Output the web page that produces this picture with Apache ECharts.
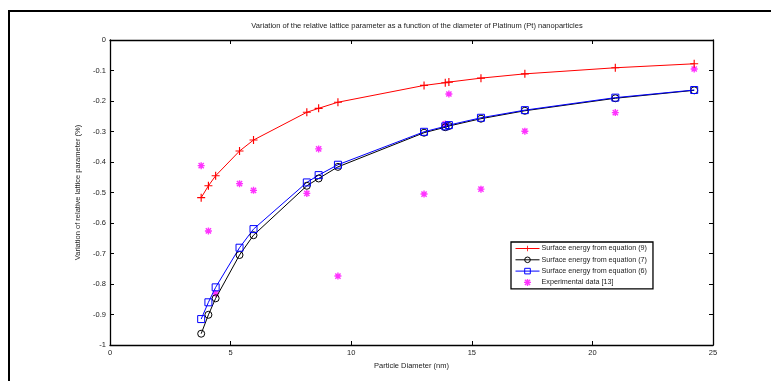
<!DOCTYPE html>
<html><head><meta charset="utf-8">
<script src="https://cdn.jsdelivr.net/npm/echarts@6/dist/echarts.min.js"></script>
<style>html,body{margin:0;padding:0;background:#fff}#c{width:771px;height:381px}</style>
</head><body><div id="c"></div>
<script>
const diameters = [3.78, 4.08, 4.38, 5.37, 5.95, 8.16, 8.65, 9.45, 13.02, 13.9, 14.05, 15.38, 17.2, 20.95, 24.22];
const eq9 = [-0.517, -0.478, -0.445, -0.364, -0.328, -0.237, -0.224, -0.204, -0.149, -0.140, -0.138, -0.125, -0.111, -0.091, -0.078];
const eq7 = [-0.963, -0.901, -0.847, -0.705, -0.640, -0.478, -0.454, -0.416, -0.304, -0.286, -0.282, -0.258, -0.232, -0.191, -0.165];
const eq6 = [-0.915, -0.860, -0.811, -0.681, -0.620, -0.467, -0.443, -0.409, -0.301, -0.283, -0.279, -0.255, -0.230, -0.189, -0.164];
const experimental = [-0.412, -0.626, -0.831, -0.471, -0.493, -0.503, -0.357, -0.774, -0.505, -0.275, -0.177, -0.489, -0.299, -0.238, -0.095];
const seriesNames = ['Surface energy from equation (9)', 'Surface energy from equation (7)', 'Surface energy from equation (6)', 'Experimental data [13]'];
const titleText = 'Variation of the relative lattice parameter as a function of the diameter of Platinum (Pt) nanoparticles';
const xName = 'Particle Diameter (nm)';
const yName = 'Variation of relative lattice parameter (%)';

const pair = (ys) => diameters.map((x, i) => [x, ys[i]]);
const font = 'Liberation Sans, Arial, sans-serif';
const plusPath = 'path://M3,0H4V3H7V4H4V7H3V4H0V3H3Z';
const starPath = 'path://M2.8,0H4.2V2.8H7V4.2H4.2V7H2.8V4.2H0V2.8H2.8Z M0.4,1.4L1.4,0.4L6.6,5.6L5.6,6.6Z M5.6,0.4L6.6,1.4L1.4,6.6L0.4,5.6Z M2,2H5V5H2Z';

const chart = echarts.init(document.getElementById('c'), null, {renderer: 'canvas'});
const axisCommon = {
  axisLine: {show: true, onZero: false, lineStyle: {color: '#000', width: 1.3}},
  axisTick: {show: true, inside: true, length: 4, lineStyle: {color: '#000', width: 1}},
  splitLine: {show: false}
};
chart.setOption({
  animation: false,
  backgroundColor: '#fff',
  title: {text: titleText, left: 412, top: 17, textAlign: 'center',
    textStyle: {fontFamily: font, fontSize: 7.5, fontWeight: 'normal', color: '#222'}},
  grid: {left: 110, top: 40, right: 58, bottom: 36},
  legend: {
    orient: 'vertical', left: 511, top: 242, width: 140,
    backgroundColor: '#fff', borderColor: '#000', borderWidth: 1.3,
    padding: [3, 6, 3, 4], itemWidth: 24, itemHeight: 7, itemGap: 4.3,
    lineStyle: {width: 1}, itemStyle: {borderWidth: 1},
    textStyle: {fontFamily: font, fontSize: 7.2, color: '#222', padding: [0, 0, 0, -3]},
    data: seriesNames
  },
  xAxis: [
    Object.assign({type: 'value', min: 0, max: 25, interval: 5, position: 'bottom',
      name: xName, nameLocation: 'middle', nameGap: 12,
      nameTextStyle: {fontFamily: font, fontSize: 7.5, color: '#222'},
      axisLabel: {fontFamily: font, fontSize: 7.5, color: '#222', margin: 4}}, axisCommon),
    Object.assign({type: 'value', min: 0, max: 25, interval: 5, position: 'top',
      axisLabel: {show: false}}, axisCommon)
  ],
  yAxis: [
    Object.assign({type: 'value', min: -1, max: 0, interval: 0.1, position: 'left',
      name: yName, nameLocation: 'middle', nameGap: 21, nameRotate: 90,
      nameTextStyle: {fontFamily: font, fontSize: 7.5, color: '#222'},
      axisLabel: {fontFamily: font, fontSize: 7.5, color: '#222', margin: 4,
        formatter: v => (Math.abs(v) < 1e-9 ? '0' : String(Math.round(v * 10) / 10))}}, axisCommon),
    Object.assign({type: 'value', min: -1, max: 0, interval: 0.1, position: 'right',
      axisLabel: {show: false}}, axisCommon)
  ],
  series: [
    {name: seriesNames[0], type: 'line', data: pair(eq9), symbol: plusPath, symbolSize: 8,
      lineStyle: {color: '#ff0000', width: 1}, itemStyle: {color: '#ff0000'}},
    {name: seriesNames[1], type: 'line', data: pair(eq7), symbol: 'circle', symbolSize: 7,
      lineStyle: {color: '#000', width: 1}, itemStyle: {color: 'rgba(0,0,0,0)', borderColor: '#000', borderWidth: 1}},
    {name: seriesNames[2], type: 'line', data: pair(eq6), symbol: 'rect', symbolSize: 7,
      lineStyle: {color: '#0000ff', width: 1}, itemStyle: {color: 'rgba(0,0,0,0)', borderColor: '#0000ff', borderWidth: 1}},
    {name: seriesNames[3], type: 'scatter', data: pair(experimental), symbol: starPath, symbolSize: 7,
      itemStyle: {color: '#ff00ff'}}
  ],
  graphic: [{type: 'rect', shape: {x: 9, y: 11, width: 900, height: 500},
    style: {fill: null, stroke: '#000', lineWidth: 2}, silent: true}]
});
</script></body></html>
